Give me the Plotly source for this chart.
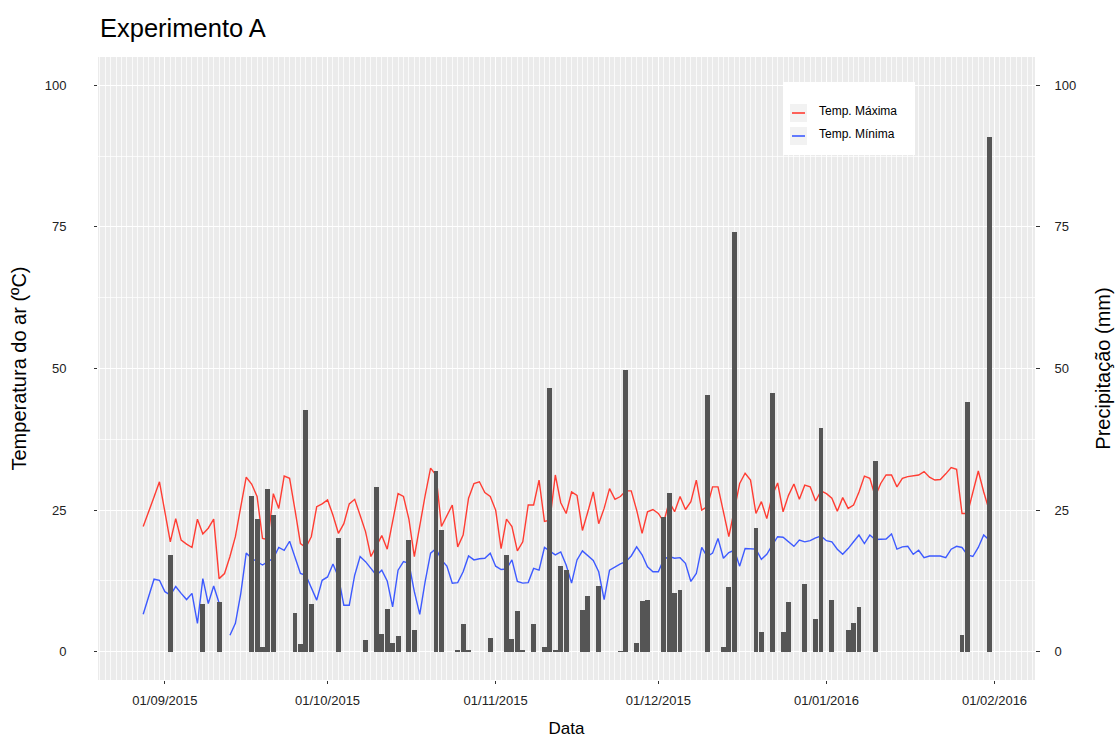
import pandas as pd
import plotly.graph_objects as go

# Daily series, 28/08/2015 .. 31/01/2016
first_day = "2015-08-28"

temp_max = [
    22.1, 24.6, 27.3, 30.0, 24.7, 19.4, 23.5, 19.7, 19.0, 18.4,
    23.4, 20.8, 21.8, 23.4, 12.9, 13.8, 16.8, 20.3, 25.6, 30.8,
    29.6, 27.4, 20.0, 19.8, 27.9, 25.3, 31.0, 30.6, 25.0, 19.1,
    18.4, 20.3, 25.6, 26.1, 26.8, 24.1, 20.9, 22.6, 26.1, 26.9,
    24.1, 21.2, 16.8, 18.8, 20.5, 18.1, 22.9, 27.9, 27.4, 23.4,
    16.8, 22.6, 27.6, 32.4, 31.2, 22.1, 24.1, 25.9, 18.5, 20.6,
    27.1, 29.7, 30.0, 28.1, 27.4, 25.0, 18.2, 23.4, 22.1, 17.8,
    19.4, 25.9, 25.9, 30.3, 23.0, 23.2, 31.2, 26.3, 24.4, 28.2,
    27.6, 21.4, 24.7, 28.2, 22.6, 25.3, 28.8, 26.9, 27.4, 28.4,
    28.4, 25.0, 20.9, 24.7, 25.1, 24.4, 22.9, 26.5, 24.7, 27.4,
    25.1, 26.5, 30.3, 25.0, 25.6, 29.1, 29.1, 24.4, 20.3, 25.0,
    29.7, 31.5, 30.3, 24.4, 26.5, 23.5, 27.6, 29.8, 24.7, 27.6,
    29.6, 26.9, 29.4, 29.1, 26.6, 28.4, 27.9, 27.1, 24.8, 27.2,
    25.3, 25.9, 28.2, 31.0, 30.6, 27.4, 29.7, 31.2, 31.2, 29.1,
    30.6, 30.9, 31.0, 31.2, 31.8, 30.8, 30.3, 30.4, 31.4, 32.5,
    32.2, 24.4, 24.4, 27.9, 31.9, 28.2, 25.0,
]

temp_min = [
    6.6, 9.7, 12.8, 12.6, 10.6, 10.0, 11.5, 10.3, 9.2, 10.3,
    5.0, 12.9, 8.5, 11.6, 8.6, None, 2.9, 5.0, 10.3, 17.4,
    16.5, 15.9, 15.3, 15.9, 16.5, 18.4, 17.9, 19.5, 16.8, 13.8,
    13.5, 11.2, 9.1, 12.6, 13.2, 15.5, 13.2, 8.2, 8.2, 13.5,
    16.8, 15.9, 14.7, 13.5, 14.4, 12.5, 7.9, 14.4, 15.9, 15.6,
    10.6, 6.6, 12.4, 17.4, 18.2, 16.2, 15.1, 12.1, 12.2, 14.1,
    16.9, 16.2, 16.4, 16.5, 17.4, 15.1, 14.5, 14.6, 16.2, 12.4,
    12.1, 12.2, 14.7, 14.4, 18.4, 17.8, 17.1, 17.6, 15.3, 12.1,
    16.2, 17.8, 16.9, 16.1, 14.1, 9.2, 14.4, 15.0, 15.5, 15.9,
    16.9, 18.5, 17.1, 15.0, 14.1, 14.1, 16.3, 16.8, 16.5, 16.6,
    15.6, 12.4, 13.8, 18.4, 16.8, 17.4, 20.0, 16.5, 17.5, 17.9,
    15.1, 18.2, 18.2, 18.1, 16.3, 17.2, 18.8, 20.3, 20.2, 19.4,
    18.6, 19.7, 19.4, 19.6, 20.1, 20.4, 19.6, 19.4, 18.1, 17.2,
    18.2, 19.4, 20.6, 19.1, 20.6, 19.8, 19.8, 19.9, 20.8, 18.1,
    18.5, 18.6, 17.2, 17.9, 16.6, 16.9, 16.9, 16.9, 16.6, 18.1,
    18.6, 18.4, 17.1, 16.8, 18.4, 20.6, 19.7,
]

precip = [
    0, 0, 0, 0, 0, 17.1, 0, 0, 0, 0,
    0, 8.5, 0, 0, 8.8, 0, 0, 0, 0, 0,
    27.5, 23.4, 0.8, 28.8, 24.1, 0, 0, 0, 6.9, 1.4,
    42.7, 8.4, 0, 0, 0, 0, 20.0, 0, 0, 0,
    0, 2.1, 0, 29.1, 3.2, 7.5, 1.5, 2.8, 0, 19.7,
    3.8, 0, 0, 0, 31.9, 21.5, 0, 0, 0.2, 4.9,
    0.3, 0, 0, 0, 2.5, 0, 0, 17.1, 2.2, 7.2,
    0.2, 0, 4.9, 0, 0.9, 46.5, 0.3, 15.1, 14.4, 0,
    0, 7.4, 9.8, 0, 11.6, 0, 0, 0, 0.1, 49.8,
    0, 1.6, 9.0, 9.1, 0, 0, 23.7, 28.1, 10.4, 10.9,
    0, 0, 0, 0, 45.3, 0, 0, 0.9, 11.4, 74.1,
    0, 0, 0, 21.9, 3.5, 0, 45.7, 0, 3.5, 8.8,
    0, 0, 11.9, 0, 5.7, 39.5, 0, 9.2, 0, 0,
    3.8, 5.0, 7.9, 0, 0, 33.7, 0, 0, 0, 0,
    0, 0, 0, 0, 0, 0, 0, 0, 0, 0,
    0, 2.9, 44.0, 0, 0, 0, 90.9,
]

month_ticks = ["2015-09-01", "2015-10-01", "2015-11-01",
               "2015-12-01", "2016-01-01", "2016-02-01"]
month_labels = ["01/09/2015", "01/10/2015", "01/11/2015",
                "01/12/2015", "01/01/2016", "01/02/2016"]
value_ticks = [0, 25, 50, 75, 100]

series_names = ["Temp. Máxima", "Temp. Mínima"]
series_colors = ["#FF3D33", "#3D5AFF"]

dates = pd.date_range(first_day, periods=len(temp_max), freq="D")

FONT = "Liberation Sans, Arial, sans-serif"
PANEL = "#EBEBEB"
DAY_MS = 86400000

fig = go.Figure()

fig.add_trace(go.Scatter(
    x=dates, y=temp_max, mode="lines", name=series_names[0],
    line=dict(color=series_colors[0], width=1.4), showlegend=False,
    connectgaps=False,
))
fig.add_trace(go.Scatter(
    x=dates, y=temp_min, mode="lines", name=series_names[1],
    line=dict(color=series_colors[1], width=1.4), showlegend=False,
    connectgaps=False,
))
fig.add_trace(go.Bar(
    x=dates, y=precip, yaxis="y2", width=0.9 * DAY_MS,
    marker=dict(color="#555555", line=dict(width=0)),
    showlegend=False, name="Precipitação",
))

# panel geometry in pixels
W, H = 1120, 738
L, R, T, B = 98, 1035, 57, 680


def px(xp):
    return (xp - L) / (R - L)


def py(yp):
    return (B - yp) / (B - T)


fig.update_layout(
    width=W, height=H,
    margin=dict(l=L, r=W - R, t=T, b=H - B, autoexpand=False),
    paper_bgcolor="white",
    plot_bgcolor=PANEL,
    font=dict(family=FONT, color="#1a1a1a"),
    bargap=0,
    title=dict(
        text="Experimento A", x=100 / W, xref="container", xanchor="left",
        y=1 - 28 / H, yref="container", yanchor="middle",
        font=dict(size=25.5, color="black", family=FONT),
    ),
    xaxis=dict(
        type="date",
        range=["2015-08-19 16:00", "2016-02-08 11:00"],
        tickmode="array", tickvals=month_ticks, ticktext=month_labels,
        tickfont=dict(size=13, color="#222222"),
        ticks="outside", ticklen=3, tickcolor="#333333", tickwidth=1,
        ticklabelstandoff=5,
        showgrid=True, gridcolor="white", gridwidth=1.2,
        minor=dict(dtick=DAY_MS, tick0="2015-08-20", showgrid=True,
                   gridcolor="rgba(255,255,255,0.75)", gridwidth=0.6,
                   ticks=""),
        zeroline=False, showline=False,
        title=dict(text="Data", font=dict(size=17, color="black"), standoff=20),
    ),
    yaxis=dict(
        range=[-5, 105], tickmode="array", tickvals=value_ticks,
        tickfont=dict(size=13, color="#222222"),
        ticks="outside", ticklen=3, tickcolor="#333333", tickwidth=1,
        ticklabelstandoff=25,
        showgrid=True, gridcolor="white", gridwidth=1.2,
        minor=dict(dtick=12.5, tick0=0, showgrid=True,
                   gridcolor="rgba(255,255,255,0.75)", gridwidth=0.6, ticks=""),
        zeroline=False, showline=False,
        title=dict(text="Temperatura do ar (ºC)",
                   font=dict(size=20, color="black"), standoff=12),
    ),
    yaxis2=dict(
        range=[-5, 105], overlaying="y", side="right",
        tickmode="array", tickvals=value_ticks,
        tickfont=dict(size=13, color="#222222"),
        ticks="outside", ticklen=4, tickcolor="#333333", tickwidth=1,
        ticklabelstandoff=12,
        showgrid=False, zeroline=False, showline=False,
        title=dict(text="Precipitação (mm)",
                   font=dict(size=20, color="black"), standoff=20),
    ),
)

# key box for the two temperature series
shapes = [dict(type="rect", xref="paper", yref="paper",
               x0=px(783), x1=px(915), y0=py(155), y1=py(82),
               fillcolor="white", line=dict(width=0), layer="above")]
annotations = []
for i, (name, color) in enumerate(zip(series_names, series_colors)):
    yc = 113 + 23 * i
    shapes.append(dict(type="rect", xref="paper", yref="paper",
                       x0=px(790), x1=px(807), y0=py(yc + 9), y1=py(yc - 9),
                       fillcolor="#F2F2F2", line=dict(width=0), layer="above"))
    shapes.append(dict(type="line", xref="paper", yref="paper",
                       x0=px(792), x1=px(805), y0=py(yc), y1=py(yc),
                       line=dict(color=color, width=1.6), layer="above"))
    annotations.append(dict(text=name, xref="paper", yref="paper",
                            x=px(817), y=py(yc - 2), xanchor="left",
                            yanchor="middle", showarrow=False,
                            font=dict(size=12, color="black", family=FONT)))

fig.update_layout(shapes=shapes, annotations=annotations)

fig.write_html("out.html")
